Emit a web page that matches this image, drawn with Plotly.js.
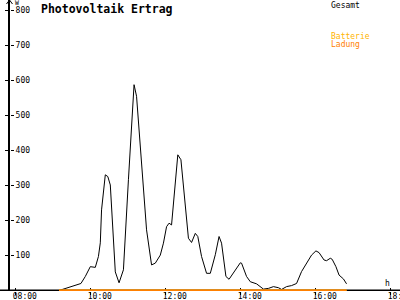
<!DOCTYPE html>
<html>
<head>
<meta charset="utf-8">
<script src="https://cdn.plot.ly/plotly-3.0.1.min.js"></script>
<style>html,body{margin:0;padding:0;background:#fff;}#chart{width:400px;height:300px;}</style>
</head>
<body>
<div id="chart"></div>
<script>
const day = '2024-06-01 ';
const times = ['09:10','09:45','09:52','10:00','10:08','10:13','10:16','10:18','10:24','10:28',
  '10:32','10:40','10:46','10:53','11:01','11:06','11:10','11:14','11:22','11:30',
  '11:38','11:44','11:52','11:57','12:02','12:06','12:10','12:14','12:20','12:25',
  '12:32','12:37','12:42','12:48','12:52','12:58','13:06','13:12','13:20','13:26',
  '13:30','13:37','13:42','13:49','14:00','14:02','14:10','14:16','14:26','14:37',
  '14:45','14:53','15:01','15:06','15:14','15:22','15:30','15:38','15:46','15:54',
  '16:01','16:06','16:14','16:18','16:24','16:27','16:33','16:38','16:45','16:50'];
const gesamt = [0,20,40,68,66,97,136,230,330,325,
  301,53,22,59,316,487,587,554,354,173,
  73,78,101,135,182,192,187,259,387,373,
  239,149,137,163,154,97,49,49,102,154,
  135,40,32,49,79,78,40,25,19,4,
  6,11,8,3,11,14,20,54,78,101,
  113,108,87,85,92,89,68,44,33,19];
const ladungTimes = ['09:10','16:50'];
const ladung = [0,0];
const batterieTimes = ['09:10','16:50'];
const batterie = [0,0];
const xTickLabels = ['08:00','10:00','12:00','14:00','16:00','18:00'];
const yTicks = [100,200,300,400,500,600,700,800];

const X = t => t.map(s => day + s);
const xRange = [day + '07:51:31', day + '18:15:31'];
const yRange = [-1.43, 828.6];
const mono = '"DejaVu Sans Mono", monospace';

// pixel -> paper helpers for text placement
const px = p => (p - 10) / 390;
const py = p => (291 - p) / 291;

const traces = [
  {x: X(times), y: gesamt, type: 'scatter', mode: 'lines', name: 'Gesamt',
   line: {color: '#000000', width: 1}, hoverinfo: 'skip'},
  {x: X(batterieTimes), y: batterie, type: 'scatter', mode: 'lines', name: 'Batterie',
   line: {color: '#FFB400', width: 2}, hoverinfo: 'skip'},
  {x: X(ladungTimes), y: ladung, type: 'scatter', mode: 'lines', name: 'Ladung',
   line: {color: '#FF8000', width: 2}, xaxis: 'x2', yaxis: 'y2', hoverinfo: 'skip'}
];

const txt = (text, x, y, size, color, bold) => ({
  text: bold ? '<b>' + text + '</b>' : text, xref: 'paper', yref: 'paper',
  x: px(x), y: py(y), xanchor: 'left', yanchor: 'top', showarrow: false,
  font: {family: mono, size: size, color: color}, borderpad: 0
});

const layout = {
  width: 400, height: 300,
  margin: {l: 10, r: 0, t: 0, b: 9, pad: 0},
  paper_bgcolor: '#ffffff', plot_bgcolor: '#ffffff',
  showlegend: false,
  xaxis: {type: 'date', range: xRange, showgrid: false, zeroline: false,
    showline: false, tickmode: 'array', tickvals: X(xTickLabels), ticktext: xTickLabels,
    ticks: 'inside', ticklen: 3, tickwidth: 1, tickcolor: '#000',
    ticklabelposition: 'outside right', ticklabelshift: -3, ticklabelstandoff: -1,
    ticklabeloverflow: 'allow',
    tickfont: {family: mono, size: 8, color: '#000'}, layer: 'below traces', fixedrange: true},
  xaxis2: {type: 'date', range: xRange, overlaying: 'x', anchor: 'y', showgrid: false,
    zeroline: false, showline: false, tickmode: 'array', tickvals: X(xTickLabels),
    ticks: 'outside', ticklen: 3, tickwidth: 1, tickcolor: '#000', showticklabels: false, fixedrange: true},
  yaxis: {range: yRange, showgrid: false, zeroline: false, showline: true,
    linecolor: '#000', linewidth: 2, tickvals: yTicks, ticks: 'outside', ticklen: 3,
    tickwidth: 1, tickcolor: '#000', showticklabels: false, layer: 'below traces', fixedrange: true},
  yaxis2: {range: yRange, overlaying: 'y', side: 'right', anchor: 'free', position: 0,
    showgrid: false, zeroline: false, showline: false, tickvals: yTicks,
    ticks: 'outside', ticklen: 3, tickwidth: 1, tickcolor: '#000',
    ticklabelstandoff: 0, ticklabeloverflow: 'allow',
    tickfont: {family: mono, size: 8, color: '#000'}, fixedrange: true},
  shapes: [
    {type: 'line', xref: 'paper', yref: 'y', x0: -10/390, x1: 1, y0: 0, y1: 0,
     line: {color: '#000', width: 2}, layer: 'below'},
    {type: 'path', xref: 'paper', yref: 'paper', xsizemode: 'pixel', ysizemode: 'pixel',
     xanchor: -0.5/390, yanchor: 1, path: 'M-3,-4 L0,0 L3,-4', line: {color: '#000', width: 1}}
  ],
  annotations: [
    txt('Photovoltaik Ertrag', 40, 1, 11.5, '#000', true),
    txt('W', 14, -2, 6.5, '#000', false),
    txt('Gesamt', 330, 0, 8, '#000', false),
    txt('Batterie', 330, 31, 8, '#FFB400', false),
    txt('Ladung', 330, 39, 8, '#FF8000', false),
    txt('h', 384, 278, 8, '#000', false)
  ]
};

Plotly.newPlot('chart', traces, layout, {staticPlot: true, displayModeBar: false});
</script>
</body>
</html>
